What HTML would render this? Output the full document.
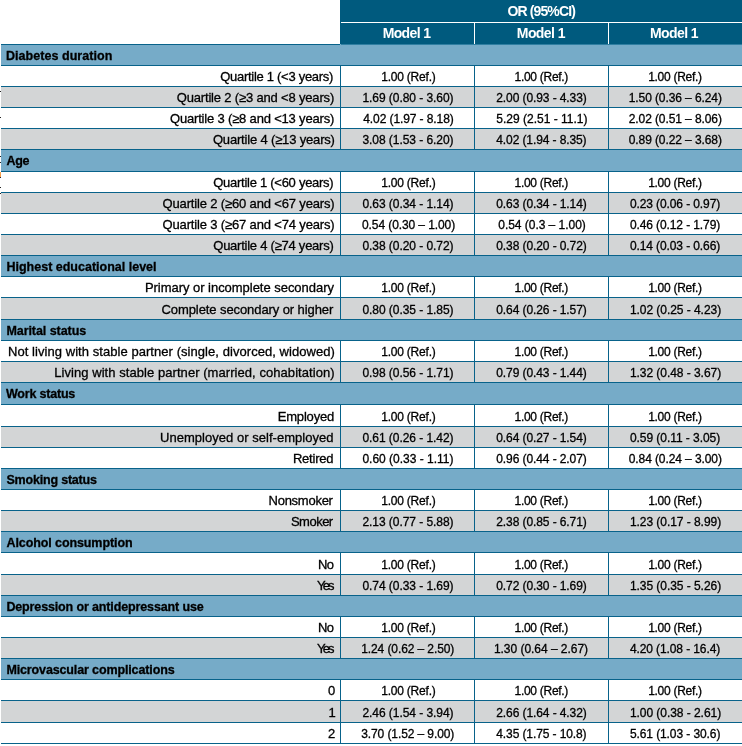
<!DOCTYPE html>
<html><head><meta charset="utf-8"><title>Table</title>
<style>
html,body{margin:0;padding:0;background:#fff;}
body{width:742px;height:746px;position:relative;overflow:hidden;font-family:"Liberation Sans",sans-serif;font-size:13px;color:#000;}
.r{position:absolute;left:1px;width:741px;}
.s{background:#76abc8;}
.g{background:#d3d5d6;}
.hl{position:absolute;left:1px;width:741px;height:1px;background:#08628a;}
.vl{position:absolute;width:1px;background:#08628a;}
.t{position:absolute;white-space:nowrap;-webkit-text-stroke:0.3px #000;}
.st{font-weight:bold;font-size:12.5px;}
.n{font-size:12px;}
.hd{position:absolute;left:340px;top:0;width:402px;height:44px;background:#005a7e;}
.ht{position:absolute;color:#fff;font-weight:bold;font-size:14px;white-space:nowrap;}
</style></head><body>
<div class="hd"></div>
<div style="position:absolute;left:341px;top:22px;width:401px;height:1px;background:#fff"></div>
<div style="position:absolute;left:341px;top:44px;width:401px;height:1px;background:#2f7fa2;z-index:2"></div>
<div style="position:absolute;left:474px;top:23px;width:1px;height:21px;background:#fff"></div>
<div style="position:absolute;left:608px;top:23px;width:1px;height:21px;background:#fff"></div>

<div class="ht" style="left:507.48px;top:0px;height:22px;line-height:22px;letter-spacing:-0.871px">OR (95%CI)</div>
<div class="ht" style="left:382.70px;top:23px;height:20px;line-height:20px;letter-spacing:-0.640px">Model 1</div>
<div class="ht" style="left:516.84px;top:23px;height:20px;line-height:20px;letter-spacing:-0.587px">Model 1</div>
<div class="ht" style="left:650.00px;top:23px;height:20px;line-height:20px;letter-spacing:-0.587px">Model 1</div>
<div class="r s" style="top:44px;height:21px"></div>
<div class="r g" style="top:87px;height:20px"></div>
<div class="r g" style="top:129px;height:20px"></div>
<div class="r s" style="top:150px;height:21px"></div>
<div class="r g" style="top:193px;height:20px"></div>
<div class="r g" style="top:235px;height:20px"></div>
<div class="r s" style="top:256px;height:20px"></div>
<div class="r g" style="top:298px;height:21px"></div>
<div class="r s" style="top:320px;height:20px"></div>
<div class="r g" style="top:362px;height:20px"></div>
<div class="r s" style="top:383px;height:21px"></div>
<div class="r g" style="top:427px;height:20px"></div>
<div class="r s" style="top:469px;height:20px"></div>
<div class="r g" style="top:511px;height:20px"></div>
<div class="r s" style="top:532px;height:20px"></div>
<div class="r g" style="top:575px;height:20px"></div>
<div class="r s" style="top:596px;height:20px"></div>
<div class="r g" style="top:638px;height:20px"></div>
<div class="r s" style="top:659px;height:20px"></div>
<div class="r g" style="top:701px;height:21px"></div>
<div class="hl" style="top:44px;width:339px"></div>
<div class="hl" style="top:65px"></div>
<div class="hl" style="top:86px"></div>
<div class="hl" style="top:107px"></div>
<div class="hl" style="top:128px"></div>
<div class="hl" style="top:149px"></div>
<div class="hl" style="top:171px"></div>
<div class="hl" style="top:192px"></div>
<div class="hl" style="top:213px"></div>
<div class="hl" style="top:234px"></div>
<div class="hl" style="top:255px"></div>
<div class="hl" style="top:276px"></div>
<div class="hl" style="top:297px"></div>
<div class="hl" style="top:319px"></div>
<div class="hl" style="top:340px"></div>
<div class="hl" style="top:361px"></div>
<div class="hl" style="top:382px"></div>
<div class="hl" style="top:404px"></div>
<div class="hl" style="top:426px"></div>
<div class="hl" style="top:447px"></div>
<div class="hl" style="top:468px"></div>
<div class="hl" style="top:489px"></div>
<div class="hl" style="top:510px"></div>
<div class="hl" style="top:531px"></div>
<div class="hl" style="top:552px"></div>
<div class="hl" style="top:574px"></div>
<div class="hl" style="top:595px"></div>
<div class="hl" style="top:616px"></div>
<div class="hl" style="top:637px"></div>
<div class="hl" style="top:658px"></div>
<div class="hl" style="top:679px"></div>
<div class="hl" style="top:700px"></div>
<div class="hl" style="top:722px"></div>
<div class="hl" style="top:743px"></div>
<div class="vl" style="left:340px;top:65px;height:21px"></div>
<div class="vl" style="left:474px;top:65px;height:21px"></div>
<div class="vl" style="left:608px;top:65px;height:21px"></div>
<div class="vl" style="left:340px;top:86px;height:21px"></div>
<div class="vl" style="left:474px;top:86px;height:21px"></div>
<div class="vl" style="left:608px;top:86px;height:21px"></div>
<div class="vl" style="left:340px;top:107px;height:21px"></div>
<div class="vl" style="left:474px;top:107px;height:21px"></div>
<div class="vl" style="left:608px;top:107px;height:21px"></div>
<div class="vl" style="left:340px;top:128px;height:21px"></div>
<div class="vl" style="left:474px;top:128px;height:21px"></div>
<div class="vl" style="left:608px;top:128px;height:21px"></div>
<div class="vl" style="left:340px;top:171px;height:21px"></div>
<div class="vl" style="left:474px;top:171px;height:21px"></div>
<div class="vl" style="left:608px;top:171px;height:21px"></div>
<div class="vl" style="left:340px;top:192px;height:21px"></div>
<div class="vl" style="left:474px;top:192px;height:21px"></div>
<div class="vl" style="left:608px;top:192px;height:21px"></div>
<div class="vl" style="left:340px;top:213px;height:21px"></div>
<div class="vl" style="left:474px;top:213px;height:21px"></div>
<div class="vl" style="left:608px;top:213px;height:21px"></div>
<div class="vl" style="left:340px;top:234px;height:21px"></div>
<div class="vl" style="left:474px;top:234px;height:21px"></div>
<div class="vl" style="left:608px;top:234px;height:21px"></div>
<div class="vl" style="left:340px;top:276px;height:21px"></div>
<div class="vl" style="left:474px;top:276px;height:21px"></div>
<div class="vl" style="left:608px;top:276px;height:21px"></div>
<div class="vl" style="left:340px;top:297px;height:22px"></div>
<div class="vl" style="left:474px;top:297px;height:22px"></div>
<div class="vl" style="left:608px;top:297px;height:22px"></div>
<div class="vl" style="left:340px;top:340px;height:21px"></div>
<div class="vl" style="left:474px;top:340px;height:21px"></div>
<div class="vl" style="left:608px;top:340px;height:21px"></div>
<div class="vl" style="left:340px;top:361px;height:21px"></div>
<div class="vl" style="left:474px;top:361px;height:21px"></div>
<div class="vl" style="left:608px;top:361px;height:21px"></div>
<div class="vl" style="left:340px;top:404px;height:22px"></div>
<div class="vl" style="left:474px;top:404px;height:22px"></div>
<div class="vl" style="left:608px;top:404px;height:22px"></div>
<div class="vl" style="left:340px;top:426px;height:21px"></div>
<div class="vl" style="left:474px;top:426px;height:21px"></div>
<div class="vl" style="left:608px;top:426px;height:21px"></div>
<div class="vl" style="left:340px;top:447px;height:21px"></div>
<div class="vl" style="left:474px;top:447px;height:21px"></div>
<div class="vl" style="left:608px;top:447px;height:21px"></div>
<div class="vl" style="left:340px;top:489px;height:21px"></div>
<div class="vl" style="left:474px;top:489px;height:21px"></div>
<div class="vl" style="left:608px;top:489px;height:21px"></div>
<div class="vl" style="left:340px;top:510px;height:21px"></div>
<div class="vl" style="left:474px;top:510px;height:21px"></div>
<div class="vl" style="left:608px;top:510px;height:21px"></div>
<div class="vl" style="left:340px;top:552px;height:22px"></div>
<div class="vl" style="left:474px;top:552px;height:22px"></div>
<div class="vl" style="left:608px;top:552px;height:22px"></div>
<div class="vl" style="left:340px;top:574px;height:21px"></div>
<div class="vl" style="left:474px;top:574px;height:21px"></div>
<div class="vl" style="left:608px;top:574px;height:21px"></div>
<div class="vl" style="left:340px;top:616px;height:21px"></div>
<div class="vl" style="left:474px;top:616px;height:21px"></div>
<div class="vl" style="left:608px;top:616px;height:21px"></div>
<div class="vl" style="left:340px;top:637px;height:21px"></div>
<div class="vl" style="left:474px;top:637px;height:21px"></div>
<div class="vl" style="left:608px;top:637px;height:21px"></div>
<div class="vl" style="left:340px;top:679px;height:21px"></div>
<div class="vl" style="left:474px;top:679px;height:21px"></div>
<div class="vl" style="left:608px;top:679px;height:21px"></div>
<div class="vl" style="left:340px;top:700px;height:22px"></div>
<div class="vl" style="left:474px;top:700px;height:22px"></div>
<div class="vl" style="left:608px;top:700px;height:22px"></div>
<div class="vl" style="left:340px;top:722px;height:21px"></div>
<div class="vl" style="left:474px;top:722px;height:21px"></div>
<div class="vl" style="left:608px;top:722px;height:21px"></div>
<div class="t st" style="left:6.02px;top:46px;height:21px;line-height:21px;letter-spacing:0.045px">Diabetes duration</div>
<div class="t" style="left:220.28px;top:66px;height:21px;line-height:21px;letter-spacing:-0.288px">Quartile 1 (&lt;3 years)</div>
<div class="t n" style="left:381.22px;top:67px;height:21px;line-height:21px;letter-spacing:-0.216px">1.00 (Ref.)</div>
<div class="t n" style="left:514.56px;top:67px;height:21px;line-height:21px;letter-spacing:-0.288px">1.00 (Ref.)</div>
<div class="t n" style="left:648.20px;top:67px;height:21px;line-height:21px;letter-spacing:-0.288px">1.00 (Ref.)</div>
<div class="t" style="left:176.74px;top:87px;height:21px;line-height:21px;letter-spacing:-0.172px">Quartile 2 (≥3 and &lt;8 years)</div>
<div class="t n" style="left:362.38px;top:88px;height:21px;line-height:21px;letter-spacing:-0.049px">1.69 (0.80 - 3.60)</div>
<div class="t n" style="left:496.28px;top:88px;height:21px;line-height:21px;letter-spacing:-0.092px">2.00 (0.93 - 4.33)</div>
<div class="t n" style="left:628.74px;top:88px;height:21px;line-height:21px;letter-spacing:-0.092px">1.50 (0.36 – 6.24)</div>
<div class="t" style="left:170.00px;top:108px;height:21px;line-height:21px;letter-spacing:-0.180px">Quartile 3 (≥8 and &lt;13 years)</div>
<div class="t n" style="left:363.26px;top:109px;height:21px;line-height:21px;letter-spacing:-0.092px">4.02 (1.97 - 8.18)</div>
<div class="t n" style="left:496.28px;top:109px;height:21px;line-height:21px;letter-spacing:0.007px">5.29 (2.51 - 11.1)</div>
<div class="t n" style="left:628.74px;top:109px;height:21px;line-height:21px;letter-spacing:-0.092px">2.02 (0.51 – 8.06)</div>
<div class="t" style="left:212.92px;top:129px;height:21px;line-height:21px;letter-spacing:-0.171px">Quartile 4 (≥13 years)</div>
<div class="t n" style="left:362.38px;top:130px;height:21px;line-height:21px;letter-spacing:-0.049px">3.08 (1.53 - 6.20)</div>
<div class="t n" style="left:496.28px;top:130px;height:21px;line-height:21px;letter-spacing:-0.101px">4.02 (1.94 - 8.35)</div>
<div class="t n" style="left:628.74px;top:130px;height:21px;line-height:21px;letter-spacing:-0.092px">0.89 (0.22 – 3.68)</div>
<div class="t st" style="left:6.48px;top:151px;height:21px;line-height:21px;letter-spacing:-0.280px">Age</div>
<div class="t" style="left:213.28px;top:172px;height:21px;line-height:21px;letter-spacing:-0.270px">Quartile 1 (&lt;60 years)</div>
<div class="t n" style="left:381.22px;top:173px;height:21px;line-height:21px;letter-spacing:-0.216px">1.00 (Ref.)</div>
<div class="t n" style="left:514.56px;top:173px;height:21px;line-height:21px;letter-spacing:-0.288px">1.00 (Ref.)</div>
<div class="t n" style="left:648.20px;top:173px;height:21px;line-height:21px;letter-spacing:-0.288px">1.00 (Ref.)</div>
<div class="t" style="left:162.56px;top:193px;height:21px;line-height:21px;letter-spacing:-0.154px">Quartile 2 (≥60 and &lt;67 years)</div>
<div class="t n" style="left:362.38px;top:194px;height:21px;line-height:21px;letter-spacing:-0.049px">0.63 (0.34 - 1.14)</div>
<div class="t n" style="left:496.28px;top:194px;height:21px;line-height:21px;letter-spacing:-0.092px">0.63 (0.34 - 1.14)</div>
<div class="t n" style="left:629.92px;top:194px;height:21px;line-height:21px;letter-spacing:-0.101px">0.23 (0.06 - 0.97)</div>
<div class="t" style="left:162.56px;top:214px;height:21px;line-height:21px;letter-spacing:-0.154px">Quartile 3 (≥67 and &lt;74 years)</div>
<div class="t n" style="left:362.00px;top:215px;height:21px;line-height:21px;letter-spacing:-0.092px">0.54 (0.30 – 1.00)</div>
<div class="t n" style="left:498.29px;top:215px;height:21px;line-height:21px;letter-spacing:-0.036px">0.54 (0.3 – 1.00)</div>
<div class="t n" style="left:629.92px;top:215px;height:21px;line-height:21px;letter-spacing:-0.101px">0.46 (0.12 - 1.79)</div>
<div class="t" style="left:213.28px;top:235px;height:21px;line-height:21px;letter-spacing:-0.244px">Quartile 4 (≥74 years)</div>
<div class="t n" style="left:362.38px;top:236px;height:21px;line-height:21px;letter-spacing:-0.049px">0.38 (0.20 - 0.72)</div>
<div class="t n" style="left:496.28px;top:236px;height:21px;line-height:21px;letter-spacing:-0.092px">0.38 (0.20 - 0.72)</div>
<div class="t n" style="left:629.92px;top:236px;height:21px;line-height:21px;letter-spacing:-0.101px">0.14 (0.03 - 0.66)</div>
<div class="t st" style="left:6.48px;top:257px;height:21px;line-height:21px;letter-spacing:0.000px">Highest educational level</div>
<div class="t" style="left:144.90px;top:277px;height:21px;line-height:21px;letter-spacing:-0.032px">Primary or incomplete secondary</div>
<div class="t n" style="left:381.22px;top:278px;height:21px;line-height:21px;letter-spacing:-0.216px">1.00 (Ref.)</div>
<div class="t n" style="left:514.56px;top:278px;height:21px;line-height:21px;letter-spacing:-0.288px">1.00 (Ref.)</div>
<div class="t n" style="left:648.20px;top:278px;height:21px;line-height:21px;letter-spacing:-0.288px">1.00 (Ref.)</div>
<div class="t" style="left:161.56px;top:299px;height:21px;line-height:21px;letter-spacing:-0.089px">Complete secondary or higher</div>
<div class="t n" style="left:362.38px;top:300px;height:21px;line-height:21px;letter-spacing:-0.049px">0.80 (0.35 - 1.85)</div>
<div class="t n" style="left:496.28px;top:300px;height:21px;line-height:21px;letter-spacing:-0.092px">0.64 (0.26 - 1.57)</div>
<div class="t n" style="left:629.92px;top:300px;height:21px;line-height:21px;letter-spacing:-0.049px">1.02 (0.25 - 4.23)</div>
<div class="t st" style="left:6.38px;top:321px;height:21px;line-height:21px;letter-spacing:-0.055px">Marital status</div>
<div class="t" style="left:8.02px;top:341px;height:21px;line-height:21px;letter-spacing:0.056px">Not living with stable partner (single, divorced, widowed)</div>
<div class="t n" style="left:381.22px;top:342px;height:21px;line-height:21px;letter-spacing:-0.216px">1.00 (Ref.)</div>
<div class="t n" style="left:514.56px;top:342px;height:21px;line-height:21px;letter-spacing:-0.288px">1.00 (Ref.)</div>
<div class="t n" style="left:648.20px;top:342px;height:21px;line-height:21px;letter-spacing:-0.288px">1.00 (Ref.)</div>
<div class="t" style="left:54.22px;top:362px;height:21px;line-height:21px;letter-spacing:0.059px">Living with stable partner (married, cohabitation)</div>
<div class="t n" style="left:362.38px;top:363px;height:21px;line-height:21px;letter-spacing:-0.049px">0.98 (0.56 - 1.71)</div>
<div class="t n" style="left:496.28px;top:363px;height:21px;line-height:21px;letter-spacing:-0.092px">0.79 (0.43 - 1.44)</div>
<div class="t n" style="left:629.92px;top:363px;height:21px;line-height:21px;letter-spacing:-0.049px">1.32 (0.48 - 3.67)</div>
<div class="t st" style="left:5.92px;top:384px;height:21px;line-height:21px;letter-spacing:-0.192px">Work status</div>
<div class="t" style="left:277.74px;top:406px;height:21px;line-height:21px;letter-spacing:-0.183px">Employed</div>
<div class="t n" style="left:381.22px;top:407px;height:21px;line-height:21px;letter-spacing:-0.216px">1.00 (Ref.)</div>
<div class="t n" style="left:514.56px;top:407px;height:21px;line-height:21px;letter-spacing:-0.288px">1.00 (Ref.)</div>
<div class="t n" style="left:648.20px;top:407px;height:21px;line-height:21px;letter-spacing:-0.288px">1.00 (Ref.)</div>
<div class="t" style="left:160.00px;top:427px;height:21px;line-height:21px;letter-spacing:0.034px">Unemployed or self-employed</div>
<div class="t n" style="left:362.38px;top:428px;height:21px;line-height:21px;letter-spacing:-0.049px">0.61 (0.26 - 1.42)</div>
<div class="t n" style="left:496.28px;top:428px;height:21px;line-height:21px;letter-spacing:-0.092px">0.64 (0.27 - 1.54)</div>
<div class="t n" style="left:629.92px;top:428px;height:21px;line-height:21px;letter-spacing:-0.049px">0.59 (0.11 - 3.05)</div>
<div class="t" style="left:292.90px;top:448px;height:21px;line-height:21px;letter-spacing:-0.213px">Retired</div>
<div class="t n" style="left:362.38px;top:449px;height:21px;line-height:21px;letter-spacing:-0.002px">0.60 (0.33 - 1.11)</div>
<div class="t n" style="left:496.28px;top:449px;height:21px;line-height:21px;letter-spacing:-0.092px">0.96 (0.44 - 2.07)</div>
<div class="t n" style="left:628.74px;top:449px;height:21px;line-height:21px;letter-spacing:-0.092px">0.84 (0.24 – 3.00)</div>
<div class="t st" style="left:6.48px;top:470px;height:21px;line-height:21px;letter-spacing:-0.197px">Smoking status</div>
<div class="t" style="left:268.56px;top:490px;height:21px;line-height:21px;letter-spacing:-0.260px">Nonsmoker</div>
<div class="t n" style="left:381.22px;top:491px;height:21px;line-height:21px;letter-spacing:-0.216px">1.00 (Ref.)</div>
<div class="t n" style="left:514.56px;top:491px;height:21px;line-height:21px;letter-spacing:-0.288px">1.00 (Ref.)</div>
<div class="t n" style="left:648.20px;top:491px;height:21px;line-height:21px;letter-spacing:-0.288px">1.00 (Ref.)</div>
<div class="t" style="left:290.90px;top:511px;height:21px;line-height:21px;letter-spacing:-0.496px">Smoker</div>
<div class="t n" style="left:362.38px;top:512px;height:21px;line-height:21px;letter-spacing:-0.049px">2.13 (0.77 - 5.88)</div>
<div class="t n" style="left:496.28px;top:512px;height:21px;line-height:21px;letter-spacing:-0.092px">2.38 (0.85 - 6.71)</div>
<div class="t n" style="left:629.92px;top:512px;height:21px;line-height:21px;letter-spacing:-0.049px">1.23 (0.17 - 8.99)</div>
<div class="t st" style="left:6.48px;top:533px;height:21px;line-height:21px;letter-spacing:-0.093px">Alcohol consumption</div>
<div class="t" style="left:318.02px;top:554px;height:21px;line-height:21px;letter-spacing:-0.720px">No</div>
<div class="t n" style="left:381.22px;top:555px;height:21px;line-height:21px;letter-spacing:-0.216px">1.00 (Ref.)</div>
<div class="t n" style="left:514.56px;top:555px;height:21px;line-height:21px;letter-spacing:-0.288px">1.00 (Ref.)</div>
<div class="t n" style="left:648.20px;top:555px;height:21px;line-height:21px;letter-spacing:-0.288px">1.00 (Ref.)</div>
<div class="t" style="left:317.10px;top:575px;height:21px;line-height:21px;letter-spacing:-1.880px">Yes</div>
<div class="t n" style="left:362.38px;top:576px;height:21px;line-height:21px;letter-spacing:-0.049px">0.74 (0.33 - 1.69)</div>
<div class="t n" style="left:496.28px;top:576px;height:21px;line-height:21px;letter-spacing:-0.092px">0.72 (0.30 - 1.69)</div>
<div class="t n" style="left:629.92px;top:576px;height:21px;line-height:21px;letter-spacing:-0.049px">1.35 (0.35 - 5.26)</div>
<div class="t st" style="left:6.38px;top:597px;height:21px;line-height:21px;letter-spacing:-0.134px">Depression or antidepressant use</div>
<div class="t" style="left:318.02px;top:617px;height:21px;line-height:21px;letter-spacing:-0.720px">No</div>
<div class="t n" style="left:381.22px;top:618px;height:21px;line-height:21px;letter-spacing:-0.216px">1.00 (Ref.)</div>
<div class="t n" style="left:514.56px;top:618px;height:21px;line-height:21px;letter-spacing:-0.288px">1.00 (Ref.)</div>
<div class="t n" style="left:648.20px;top:618px;height:21px;line-height:21px;letter-spacing:-0.288px">1.00 (Ref.)</div>
<div class="t" style="left:317.10px;top:638px;height:21px;line-height:21px;letter-spacing:-1.880px">Yes</div>
<div class="t n" style="left:361.20px;top:639px;height:21px;line-height:21px;letter-spacing:-0.092px">1.24 (0.62 – 2.50)</div>
<div class="t n" style="left:493.90px;top:639px;height:21px;line-height:21px;letter-spacing:-0.031px">1.30 (0.64 – 2.67)</div>
<div class="t n" style="left:629.92px;top:639px;height:21px;line-height:21px;letter-spacing:-0.101px">4.20 (1.08 - 16.4)</div>
<div class="t st" style="left:6.38px;top:660px;height:21px;line-height:21px;letter-spacing:-0.129px">Microvascular complications</div>
<div class="t" style="left:328.00px;top:680px;height:21px;line-height:21px;letter-spacing:0.000px">0</div>
<div class="t n" style="left:381.22px;top:681px;height:21px;line-height:21px;letter-spacing:-0.216px">1.00 (Ref.)</div>
<div class="t n" style="left:514.56px;top:681px;height:21px;line-height:21px;letter-spacing:-0.288px">1.00 (Ref.)</div>
<div class="t n" style="left:648.20px;top:681px;height:21px;line-height:21px;letter-spacing:-0.288px">1.00 (Ref.)</div>
<div class="t" style="left:328.38px;top:702px;height:21px;line-height:21px;letter-spacing:0.000px">1</div>
<div class="t n" style="left:362.38px;top:703px;height:21px;line-height:21px;letter-spacing:-0.049px">2.46 (1.54 - 3.94)</div>
<div class="t n" style="left:496.28px;top:703px;height:21px;line-height:21px;letter-spacing:-0.092px">2.66 (1.64 - 4.32)</div>
<div class="t n" style="left:629.92px;top:703px;height:21px;line-height:21px;letter-spacing:-0.049px">1.00 (0.38 - 2.61)</div>
<div class="t" style="left:327.92px;top:723px;height:21px;line-height:21px;letter-spacing:0.000px">2</div>
<div class="t n" style="left:361.20px;top:724px;height:21px;line-height:21px;letter-spacing:-0.092px">3.70 (1.52 – 9.00)</div>
<div class="t n" style="left:496.28px;top:724px;height:21px;line-height:21px;letter-spacing:-0.101px">4.35 (1.75 - 10.8)</div>
<div class="t n" style="left:629.92px;top:724px;height:21px;line-height:21px;letter-spacing:-0.092px">5.61 (1.03 - 30.6)</div>
<div style="position:absolute;left:0;top:91px;width:1px;height:1px;background:#222"></div>
<div style="position:absolute;left:0;top:117px;width:1px;height:1px;background:#222"></div>
<div style="position:absolute;left:0;top:156px;width:1px;height:1px;background:#222"></div>
<div style="position:absolute;left:0;top:162px;width:1px;height:1px;background:#222"></div>
<div style="position:absolute;left:0;top:187px;width:1px;height:1px;background:#222"></div>
<div style="position:absolute;left:0;top:193px;width:1px;height:1px;background:#222"></div>
<div style="position:absolute;left:0;top:172px;width:1px;height:5px;background:#f7a04a"></div>
<div style="position:absolute;left:0;top:177px;width:1px;height:1px;background:#223"></div>
</body></html>
